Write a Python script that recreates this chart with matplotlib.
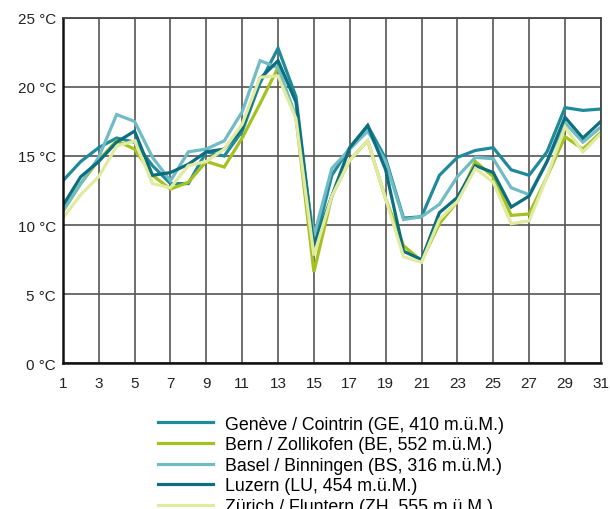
import matplotlib
matplotlib.use("Agg")
import matplotlib.pyplot as plt

plt.rcParams['font.family'] = ['Liberation Sans', 'DejaVu Sans']

days = list(range(1, 32))

geneve = [13.2, 14.6, 15.6, 16.3, 16.0, 14.3, 13.0, 13.0, 15.3, 15.0, 16.8, 20.3, 22.8, 19.3, 8.4, 13.6,
          15.6, 17.2, 14.8, 10.5, 10.6, 13.6, 14.9, 15.4, 15.6, 14.0, 13.6, 15.3, 18.5, 18.3, 18.4]
bern = [11.0, 13.0, 14.7, 16.1, 15.5, 13.6, 12.6, 13.1, 14.6, 14.2, 16.3, 18.8, 21.4, 17.8, 6.6, 12.1,
        14.7, 16.1, 11.9, 8.5, 7.4, 10.1, 11.7, 14.6, 13.5, 10.7, 10.8, 13.5, 16.4, 15.5, 16.7]
basel = [11.0, 13.0, 14.9, 18.0, 17.5, 14.9, 13.2, 15.3, 15.5, 16.1, 18.2, 21.9, 21.4, 17.8, 9.2, 14.1,
         15.5, 16.8, 14.6, 10.4, 10.6, 11.5, 13.5, 14.9, 14.8, 12.7, 12.2, 14.6, 17.4, 16.0, 17.1]
luzern = [11.4, 13.5, 14.6, 16.0, 16.8, 13.6, 13.8, 14.4, 15.3, 15.5, 17.0, 20.6, 21.9, 18.9, 8.4, 12.1,
          15.6, 17.2, 14.0, 8.1, 7.5, 10.9, 12.0, 14.3, 13.8, 11.3, 12.1, 14.6, 17.8, 16.3, 17.5]
zuerich = [10.5, 12.2, 13.5, 15.7, 16.1, 13.0, 12.7, 14.3, 14.6, 15.5, 17.3, 20.7, 20.8, 17.7, 7.8, 12.1,
           14.7, 16.1, 11.9, 7.7, 7.3, 10.4, 11.7, 14.1, 13.1, 10.1, 10.3, 13.5, 17.1, 15.3, 16.6]

labels = ["Genève / Cointrin (GE, 410 m.ü.M.)",
          "Bern / Zollikofen (BE, 552 m.ü.M.)",
          "Basel / Binningen (BS, 316 m.ü.M.)",
          "Luzern (LU, 454 m.ü.M.)",
          "Zürich / Fluntern (ZH, 555 m.ü.M.)"]
colors = ["#1f8a9a", "#a3c11f", "#70bcc4", "#0c6e7e", "#e1eba0"]

x_ticks = list(range(1, 32, 2))
y_ticks = [0, 5, 10, 15, 20, 25]

fig = plt.figure(figsize=(6.1, 5.1), dpi=100)
ax = fig.add_axes([0.103, 0.286, 0.882, 0.677])

series = [geneve, bern, basel, luzern, zuerich]
for vals, lab, col in zip(series, labels, colors):
    ax.plot(days, vals, color=col, lw=2.3, label=lab, solid_joinstyle='miter')

ax.set_xlim(1, 31)
ax.set_ylim(0, 25)
ax.set_xticks(x_ticks)
ax.set_yticks(y_ticks)
ax.set_yticklabels([f"{v} °C" for v in y_ticks])
ax.tick_params(length=0, labelsize=11, colors="#222222")
ax.tick_params(axis="x", pad=9)
ax.tick_params(axis="y", pad=5)
ax.grid(True, color="#555555", lw=1.2)
ax.set_axisbelow(True)
for s in ["top", "right"]:
    ax.spines[s].set_color("#444444")
    ax.spines[s].set_linewidth(1.3)
for s in ["left", "bottom"]:
    ax.spines[s].set_color("#111111")
    ax.spines[s].set_linewidth(1.8)

fig.legend(loc="upper left", bbox_to_anchor=(0.259, 0.183), frameon=False,
           fontsize=12.8, handlelength=3.1, handletextpad=0.67, labelspacing=0.2,
           borderaxespad=0, borderpad=0)

fig.savefig("out.png", dpi=100)
